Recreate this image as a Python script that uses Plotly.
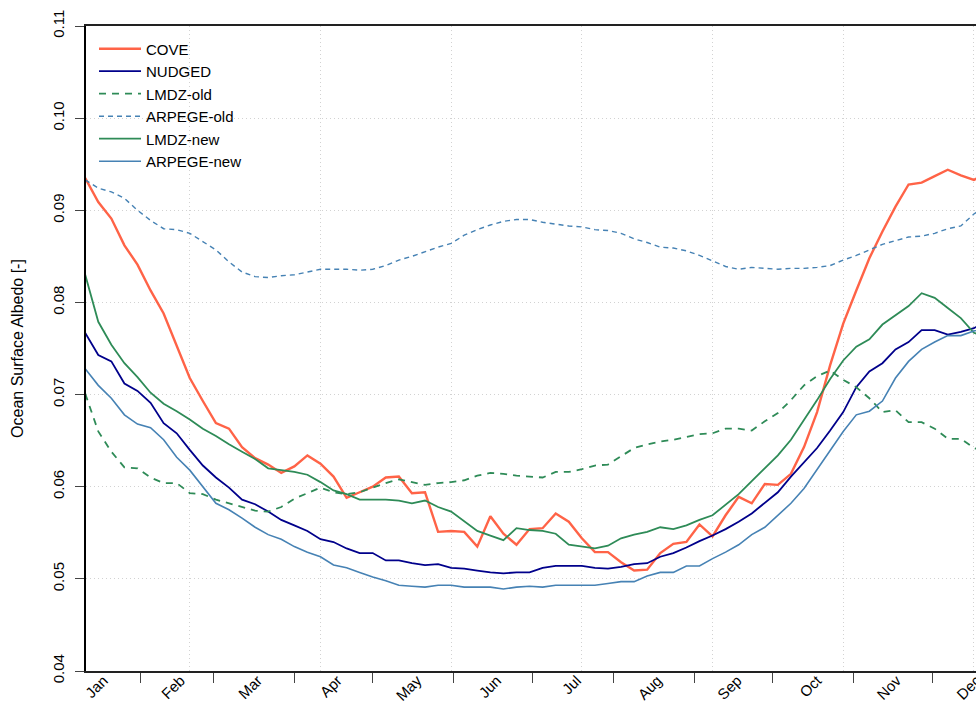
import plotly.graph_objects as go

# Day-of-year of each 5-day mean (pentads)
days = [10 + 5 * i for i in range(70)]

cove = [0.0935, 0.0909, 0.0891, 0.0862, 0.0841, 0.0813, 0.0788, 0.0752, 0.0718, 0.0693,
        0.0669, 0.0663, 0.0643, 0.0631, 0.0624, 0.0615, 0.0622, 0.0634, 0.0625, 0.0611,
        0.0588, 0.0594, 0.0600, 0.0610, 0.0611, 0.0593, 0.0594, 0.0551, 0.0552, 0.0551,
        0.0535, 0.0568, 0.0549, 0.0537, 0.0554, 0.0555, 0.0571, 0.0562, 0.0544, 0.0529,
        0.0529, 0.0518, 0.0509, 0.0510, 0.0528, 0.0538, 0.0540, 0.0559, 0.0546, 0.0569,
        0.0589, 0.0582, 0.0603, 0.0602, 0.0614, 0.0643, 0.0681, 0.0732, 0.0777, 0.0813,
        0.0848, 0.0877, 0.0904, 0.0928, 0.0930, 0.0937, 0.0944, 0.0938, 0.0933, 0.0940]

nudged = [0.0767, 0.0743, 0.0736, 0.0712, 0.0704, 0.0691, 0.0669, 0.0658, 0.0640, 0.0623,
          0.0610, 0.0599, 0.0586, 0.0581, 0.0573, 0.0564, 0.0558, 0.0552, 0.0543, 0.0540,
          0.0533, 0.0528, 0.0528, 0.0520, 0.0520, 0.0517, 0.0515, 0.0516, 0.0512, 0.0511,
          0.0509, 0.0507, 0.0506, 0.0507, 0.0507, 0.0512, 0.0514, 0.0514, 0.0514, 0.0512,
          0.0511, 0.0513, 0.0516, 0.0517, 0.0524, 0.0528, 0.0534, 0.0541, 0.0547, 0.0554,
          0.0562, 0.0571, 0.0582, 0.0594, 0.0611, 0.0626, 0.0642, 0.0661, 0.0681, 0.0708,
          0.0725, 0.0734, 0.0749, 0.0757, 0.0770, 0.0770, 0.0765, 0.0768, 0.0772, 0.0780]

lmdz_old = [0.0701, 0.0660, 0.0638, 0.0621, 0.0620, 0.0610, 0.0604, 0.0604, 0.0593, 0.0592,
            0.0586, 0.0582, 0.0578, 0.0574, 0.0573, 0.0578, 0.0587, 0.0593, 0.0599, 0.0594,
            0.0592, 0.0594, 0.0599, 0.0604, 0.0608, 0.0605, 0.0602, 0.0604, 0.0605, 0.0607,
            0.0612, 0.0615, 0.0614, 0.0612, 0.0611, 0.0610, 0.0616, 0.0616, 0.0619, 0.0623,
            0.0624, 0.0633, 0.0642, 0.0646, 0.0649, 0.0651, 0.0654, 0.0657, 0.0658, 0.0663,
            0.0663, 0.0661, 0.0671, 0.0680, 0.0694, 0.0710, 0.0720, 0.0726, 0.0716, 0.0708,
            0.0696, 0.0681, 0.0683, 0.0670, 0.0670, 0.0663, 0.0652, 0.0652, 0.0642, 0.0638]

arpege_old = [0.0933, 0.0924, 0.0920, 0.0913, 0.0900, 0.0889, 0.0880, 0.0879, 0.0875, 0.0866,
              0.0857, 0.0844, 0.0833, 0.0828, 0.0827, 0.0829, 0.0830, 0.0833, 0.0836, 0.0836,
              0.0836, 0.0835, 0.0836, 0.0840, 0.0846, 0.0850, 0.0855, 0.0860, 0.0864, 0.0873,
              0.0879, 0.0884, 0.0888, 0.0890, 0.0890, 0.0887, 0.0885, 0.0883, 0.0882, 0.0879,
              0.0878, 0.0875, 0.0869, 0.0865, 0.0860, 0.0859, 0.0856, 0.0851, 0.0845, 0.0839,
              0.0836, 0.0838, 0.0837, 0.0836, 0.0837, 0.0837, 0.0838, 0.0840, 0.0846, 0.0851,
              0.0857, 0.0863, 0.0867, 0.0871, 0.0872, 0.0875, 0.0880, 0.0883, 0.0896, 0.0905]

lmdz_new = [0.0830, 0.0779, 0.0754, 0.0734, 0.0719, 0.0702, 0.0690, 0.0682, 0.0673, 0.0663,
            0.0655, 0.0646, 0.0638, 0.0630, 0.0620, 0.0618, 0.0616, 0.0613, 0.0605, 0.0596,
            0.0592, 0.0586, 0.0586, 0.0586, 0.0585, 0.0582, 0.0585, 0.0578, 0.0573, 0.0562,
            0.0552, 0.0547, 0.0542, 0.0555, 0.0553, 0.0552, 0.0549, 0.0537, 0.0535, 0.0533,
            0.0536, 0.0544, 0.0548, 0.0551, 0.0556, 0.0554, 0.0558, 0.0564, 0.0569, 0.0580,
            0.0592, 0.0606, 0.0620, 0.0634, 0.0651, 0.0672, 0.0694, 0.0717, 0.0737, 0.0752,
            0.0760, 0.0776, 0.0786, 0.0796, 0.0810, 0.0805, 0.0794, 0.0783, 0.0767, 0.0762]

arpege_new = [0.0728, 0.0710, 0.0696, 0.0678, 0.0668, 0.0664, 0.0651, 0.0632, 0.0618, 0.0600,
              0.0582, 0.0575, 0.0566, 0.0556, 0.0548, 0.0543, 0.0535, 0.0529, 0.0524, 0.0515,
              0.0512, 0.0507, 0.0502, 0.0498, 0.0493, 0.0492, 0.0491, 0.0493, 0.0493, 0.0491,
              0.0491, 0.0491, 0.0489, 0.0491, 0.0492, 0.0491, 0.0493, 0.0493, 0.0493, 0.0493,
              0.0495, 0.0497, 0.0497, 0.0503, 0.0507, 0.0507, 0.0514, 0.0514, 0.0522, 0.0529,
              0.0537, 0.0548, 0.0556, 0.0569, 0.0582, 0.0598, 0.0619, 0.0640, 0.0660, 0.0678,
              0.0682, 0.0693, 0.0718, 0.0736, 0.0749, 0.0757, 0.0764, 0.0764, 0.0769, 0.0772]

months = ["Jan", "Feb", "Mar", "Apr", "May", "Jun", "Jul", "Aug", "Sep", "Oct", "Nov", "Dec"]
month_len = [31, 28, 31, 30, 31, 30, 31, 31, 30, 31, 30, 31]
month_end = []
acc = 0
for n in month_len:
    acc += n
    month_end.append(acc)
month_mid = [e - n / 2 for e, n in zip(month_end, month_len)]

y_ticks = [0.04, 0.05, 0.06, 0.07, 0.08, 0.09, 0.10, 0.11]
grid_days = [50, 100, 150, 200, 250, 300, 350]

series = [
    ("COVE", cove, "#FF6347", 2.4, "solid", "x"),
    ("NUDGED", nudged, "#00008B", 1.8, "solid", "x"),
    ("LMDZ-old", lmdz_old, "#2E8B57", 1.8, "7px,6px", "x"),
    ("ARPEGE-old", arpege_old, "#4682B4", 1.4, "5px,4px", "x"),
    ("LMDZ-new", lmdz_new, "#2E8B57", 1.8, "solid", "x"),
    ("ARPEGE-new", arpege_new, "#4682B4", 1.6, "solid", "x2"),
]

FONT = "Liberation Sans, Arial, Helvetica, sans-serif"
GRID = "#d2d2d2"
x_range = [10.3, 350.8]

fig = go.Figure()
for name, vals, color, width, dash, xa in series:
    fig.add_trace(go.Scatter(
        x=days, y=vals, mode="lines", name=name, xaxis=xa, yaxis="y",
        line=dict(color=color, width=width, dash=dash),
    ))

fig.update_layout(
    width=976, height=706,
    margin=dict(l=86, r=0, t=26, b=35),
    paper_bgcolor="white", plot_bgcolor="white",
    font=dict(family=FONT, size=15, color="black"),
    showlegend=True,
    legend=dict(
        x=0.009, y=0.99, xanchor="left", yanchor="top",
        bgcolor="rgba(0,0,0,0)", borderwidth=0,
        font=dict(family=FONT, size=15, color="black"),
        itemwidth=42, tracegroupgap=0,
    ),
    xaxis=dict(
        range=x_range, showgrid=False, zeroline=False, automargin=False,
        tickmode="array", tickvals=month_end, ticktext=[""] * 12,
        ticks="outside", ticklen=10, tickwidth=1.3, tickcolor="#444",
        showline=True, linecolor="#222", linewidth=1.5, mirror=True,
        showticklabels=False,
        minor=dict(tickmode="array", tickvals=grid_days, showgrid=True,
                   gridcolor=GRID, gridwidth=1, griddash="1px,3px", ticks=""),
    ),
    xaxis2=dict(
        range=x_range, overlaying="x", side="bottom", showgrid=False,
        zeroline=False, showline=False, automargin=False,
        tickmode="array", tickvals=month_mid, ticktext=months,
        ticks="", tickangle=-45, ticklabelshift=4, ticklabelstandoff=-3,
        ticklabeloverflow="allow",
        tickfont=dict(family=FONT, size=15, color="black"),
    ),
    yaxis=dict(
        range=[0.04, 0.11], tickmode="array", tickvals=y_ticks,
        ticktext=[f"{v:.2f}" for v in y_ticks], automargin=False,
        tickangle=-90, ticks="outside", ticklen=9, tickwidth=1.3, tickcolor="#444",
        ticklabelstandoff=5,
        showline=True, linecolor="black", linewidth=1.5, mirror=False,
        showgrid=True, gridcolor=GRID, gridwidth=1, griddash="1px,3px",
        zeroline=False,
        title=dict(text="Ocean Surface Albedo [-]", standoff=23,
                   font=dict(family=FONT, size=16, color="black")),
    ),
)

fig.write_html("out.html")
